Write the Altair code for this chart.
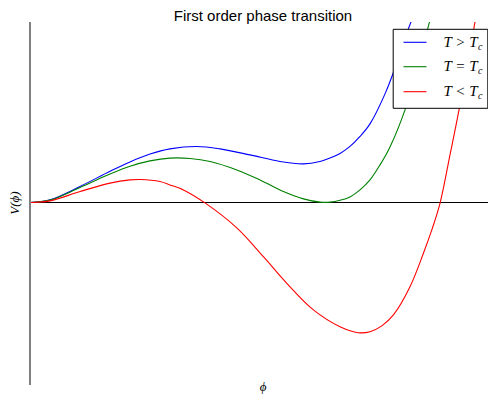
import altair as alt
import pandas as pd

series = ["T>Tc", "T=Tc", "T<Tc"]
colors = ["#0000ff", "#008000", "#ff0000"]
legend_text = ["T > T", "T = T", "T < T"]

# T > Tc
phi_hi = [0.0, 0.1, 0.25, 0.4, 0.5, 0.6, 0.7, 0.834, 0.95, 1.1, 1.25, 1.367, 1.45,
          1.5, 1.55, 1.6, 1.65, 1.7, 1.775, 1.834, 1.884, 1.909]
v_hi = [0.0, 0.013, 0.080, 0.156, 0.203, 0.242, 0.268, 0.280, 0.268, 0.238, 0.205,
        0.193, 0.205, 0.222, 0.2455, 0.2805, 0.3305, 0.393, 0.543, 0.697, 0.847, 0.913]

# T = Tc
phi_eq = [0.0, 0.1, 0.25, 0.4, 0.5, 0.6, 0.7, 0.8, 0.9, 1.034, 1.15, 1.267, 1.367,
          1.45, 1.5, 1.55, 1.6, 1.65, 1.7, 1.75, 1.8, 1.875, 1.934, 2.0]
v_eq = [0.0, 0.012, 0.075, 0.142, 0.181, 0.208, 0.222, 0.220, 0.205, 0.163, 0.113,
        0.055, 0.018, 0.002, 0.002, 0.011, 0.028, 0.063, 0.113, 0.188, 0.278, 0.463,
        0.663, 0.913]

# T < Tc
phi_lo = [0.0, 0.1, 0.25, 0.4, 0.5, 0.55, 0.65, 0.7, 0.767, 0.875, 1.034, 1.167,
          1.284, 1.417, 1.55, 1.642, 1.7, 1.759, 1.817, 1.9, 1.967, 2.009, 2.05,
          2.1, 2.15, 2.225]
v_lo = [0.0, 0.008, 0.055, 0.097, 0.113, 0.115, 0.105, 0.088, 0.063, -0.002,
        -0.127, -0.271, -0.404, -0.537, -0.621, -0.651, -0.646, -0.617, -0.562,
        -0.421, -0.254, -0.137, -0.004, 0.238, 0.488, 0.903]

rows = []
for name, xs, ys in zip(series, [phi_hi, phi_eq, phi_lo], [v_hi, v_eq, v_lo]):
    for x, y in zip(xs, ys):
        rows.append({"phi": x, "V": y, "series": name})
df = pd.DataFrame(rows)
one = pd.DataFrame({"k": [0]})

W, H = 458, 363
xscale = alt.Scale(domain=[0, 2.29], nice=False, zero=False)
yscale = alt.Scale(domain=[-0.9125, 0.9025], nice=False, zero=False)

zero_line = alt.Chart(pd.DataFrame({"V": [0.0]})).mark_rule(
    color="black", strokeWidth=1.2
).encode(y=alt.Y("V:Q", scale=yscale, axis=None))

lines = alt.Chart(df).mark_line(clip=True, strokeWidth=1.1, interpolate="catmull-rom").encode(
    x=alt.X("phi:Q", scale=xscale, axis=None),
    y=alt.Y("V:Q", scale=yscale, axis=None),
    color=alt.Color("series:N", scale=alt.Scale(domain=series, range=colors), legend=None),
)

spine = alt.Chart(one).mark_rule(color="#7f7f7f", strokeWidth=2).encode(
    x=alt.value(0), y=alt.value(0), y2=alt.value(H)
)

dx = -3.5
legend_box = alt.Chart(one).mark_rect(fill="white", stroke="black", strokeWidth=1).encode(
    x=alt.value(366.7 + dx), x2=alt.value(461.3 + dx), y=alt.value(7.3), y2=alt.value(86.3)
)

layers = [zero_line, lines, spine, legend_box]
ly = [20.3, 44.7, 69.7]
for i in range(3):
    layers.append(
        alt.Chart(one).mark_rule(color=colors[i], strokeWidth=1.1).encode(
            x=alt.value(377 + dx), x2=alt.value(400 + dx), y=alt.value(ly[i])
        )
    )
    layers.append(
        alt.Chart(one).mark_text(
            text=legend_text[i], font="Liberation Serif", fontStyle="italic",
            fontSize=15, align="right", baseline="alphabetic", color="black"
        ).encode(x=alt.value(451 + dx), y=alt.value(ly[i] + 4.5))
    )
    layers.append(
        alt.Chart(one).mark_text(
            text="c", font="Liberation Serif", fontStyle="italic",
            fontSize=10, align="left", baseline="alphabetic", color="black"
        ).encode(x=alt.value(451.6 + dx), y=alt.value(ly[i] + 7.2))
    )

title = alt.Chart(one).mark_text(
    text="First order phase transition", font="Liberation Sans", fontSize=15,
    align="center", baseline="alphabetic", color="black"
).encode(x=alt.value(233), y=alt.value(-1.5))

xlabel = alt.Chart(one).mark_text(
    text="ϕ", font="Liberation Serif", fontStyle="italic", fontSize=13,
    align="center", baseline="alphabetic", color="black"
).encode(x=alt.value(233), y=alt.value(369))

ylabel = alt.Chart(one).mark_text(
    text="V(ϕ)", font="Liberation Serif", fontStyle="italic", fontSize=13,
    align="center", baseline="middle", angle=270, color="black"
).encode(x=alt.value(-15), y=alt.value(181))

layers += [title, xlabel, ylabel]

chart = alt.layer(*layers).properties(
    width=W, height=H,
    padding={"left": 22, "top": 14, "right": 0, "bottom": 9},
    autosize=alt.AutoSizeParams(type="none"),
    background="white",
).configure_view(stroke=None)

chart.save("out.html", embed_options={"renderer": "svg", "actions": False})
